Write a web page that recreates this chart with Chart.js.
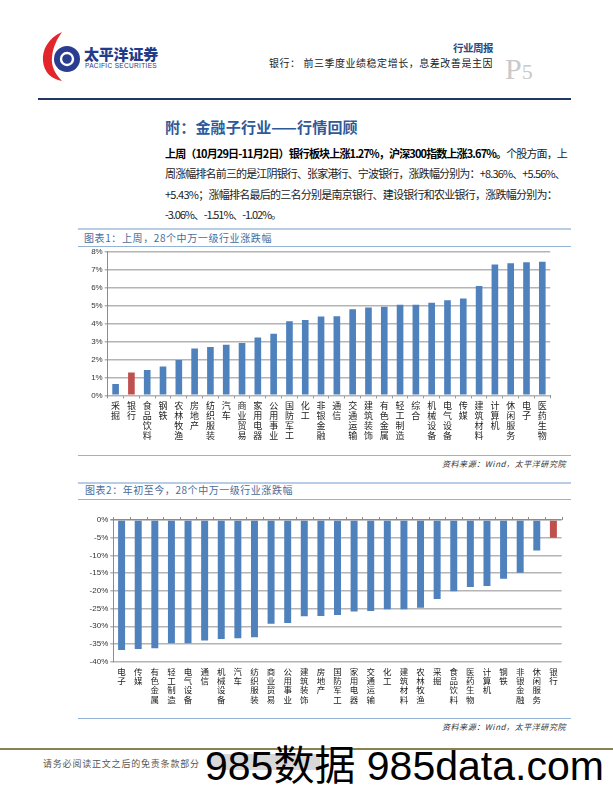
<!DOCTYPE html>
<html><head><meta charset="utf-8">
<script src="https://cdn.jsdelivr.net/npm/chart.js@4.4.1/dist/chart.umd.min.js"></script>
<style>
html,body{margin:0;padding:0;background:#fff;}
body{width:613px;height:793px;position:relative;overflow:hidden;font-family:"Noto Sans CJK SC","Noto Sans",sans-serif;}
.t{position:absolute;white-space:nowrap;line-height:1;}
.ln{position:absolute;height:1px;}
canvas{position:absolute;}
</style></head><body>
<script>
// ---------- data ----------
const cats1 = ['采掘','银行','食品饮料','钢铁','农林牧渔','房地产','纺织服装','汽车','商业贸易','家用电器','公用事业','国防军工','化工','非银金融','通信','交通运输','建筑装饰','有色金属','轻工制造','综合','机械设备','电气设备','传媒','建筑材料','计算机','休闲服务','电子','医药生物'];
const vals1 = [0.63,1.27,1.41,1.61,1.96,2.61,2.69,2.81,2.91,3.22,3.43,4.13,4.19,4.39,4.41,4.80,4.89,4.93,5.04,5.04,5.15,5.30,5.39,6.09,7.28,7.35,7.41,7.44];
const cats2 = ['电子','传媒','有色金属','轻工制造','电气设备','通信','机械设备','汽车','纺织服装','商业贸易','公用事业','建筑装饰','房地产','国防军工','家用电器','交通运输','化工','建筑材料','农林牧渔','采掘','食品饮料','医药生物','计算机','钢铁','非银金融','休闲服务','银行'];
const vals2 = [-36.7,-36.4,-36.2,-34.8,-34.8,-34.0,-33.6,-33.4,-33.1,-29.3,-29.1,-27.2,-27.1,-26.8,-25.8,-25.7,-25.2,-25.2,-24.8,-22.3,-20.1,-18.9,-18.6,-16.6,-14.9,-8.6,-5.0];
const highlight = '银行';
const title1 = '图表1：上周，28个中万一级行业涨跌幅';
const title2 = '图表2：年初至今，28个中万一级行业涨跌幅';
const source = '资料来源：Wind，太平洋研究院';
</script>

<!-- header logo -->
<svg style="position:absolute;left:40px;top:30px" width="44" height="54" viewBox="0 0 44 54">
  <path d="M22 2 C8 8 2 20 3 31 C4 42 11 49 22 51 C15 44 11 36 12 27 C13 17 17 9 22 2 Z" fill="#E3262C"/>
  <circle cx="27" cy="29" r="13" fill="#2A3D8F"/>
  <path d="M21 29 a6 6 0 1 1 6 6 M33 29 a6 6 0 1 1 -6 -6" stroke="#fff" stroke-width="2.4" fill="none"/>
</svg>
<div class="t" data-w="74" style="left:84px;top:46px;font-size:15px;font-weight:900;color:#233B8B">太平洋证券</div>
<div class="t" data-w="72" style="left:85px;top:63px;font-size:6.5px;color:#233B8B;font-family:'Liberation Sans',Arial">PACIFIC SECURITIES</div>

<div class="t" data-w="40" style="left:453px;top:43px;font-size:10.5px;font-weight:bold;color:#2B4A7E">行业周报</div>
<div class="t" data-w="224" style="left:269px;top:58px;font-size:10px;color:#222">银行： 前三季度业绩稳定增长，息差改善是主因</div>
<div class="t" style="left:505px;top:54px;font-size:30px;color:#C9C9C9;font-family:'Liberation Serif','Times New Roman',serif">P<span style="font-size:22px">5</span></div>
<div class="ln" style="left:38px;top:98px;width:533px;height:2px;background:#1F3864"></div>

<!-- section title & paragraph -->
<div class="t" data-w="193" style="left:165px;top:119px;font-size:15px;font-weight:bold;color:#2E5A99">附：金融子行业——行情回顾</div>
<div class="t" data-w="402" style="left:165px;top:147.5px;font-size:11px;color:#222"><b style="font-weight:bold;color:#000">上周（10月29日-11月2日）银行板块上涨1.27%，沪深300指数上涨3.67%。</b>个股方面，上</div>
<div class="t" data-w="400" style="left:165px;top:168px;font-size:11px;color:#222">周涨幅排名前三的是江阴银行、张家港行、宁波银行，涨跌幅分别为：+8.36%、+5.56%、</div>
<div class="t" data-w="392" style="left:165px;top:188.5px;font-size:11px;color:#222">+5.43%；涨幅排名最后的三名分别是南京银行、建设银行和农业银行，涨跌幅分别为：</div>
<div class="t" data-w="116" style="left:165px;top:209px;font-size:11px;color:#222">-3.06%、-1.51%、-1.02%。</div>

<!-- chart 1 frame -->
<div class="ln" style="left:78px;top:228px;width:493px;height:2px;background:#B8CCE4"></div>
<div class="t" id="tt1" data-w="188" style="left:84px;top:233px;font-size:10px;color:#4A6C9B"></div>
<div class="ln" style="left:78px;top:246px;width:493px;background:#95B3D7"></div>
<canvas id="c1" width="500" height="210" style="left:60px;top:244px"></canvas>
<div class="ln" style="left:78px;top:455px;width:493px;background:#95B3D7"></div>
<div class="t" id="s1" data-w="124" style="left:442px;top:460px;font-size:8px;color:#333;font-style:italic"></div>

<!-- chart 2 frame -->
<div class="ln" style="left:78px;top:482px;width:493px;height:2px;background:#B8CCE4"></div>
<div class="t" id="tt2" data-w="208" style="left:85px;top:485px;font-size:10px;color:#4A6C9B"></div>
<div class="ln" style="left:78px;top:499px;width:493px;background:#95B3D7"></div>
<canvas id="c2" width="515" height="210" style="left:55px;top:505px"></canvas>
<div class="ln" style="left:78px;top:718px;width:493px;background:#95B3D7"></div>
<div class="t" id="s2" data-w="124" style="left:442px;top:723px;font-size:8px;color:#333;font-style:italic"></div>

<!-- footer -->
<div class="ln" style="left:0px;top:748px;width:613px;height:2px;background:#8E8150"></div>
<div class="t" style="left:43px;top:759px;font-size:9px;color:#555;letter-spacing:0.8px">请务必阅读正文之后的免责条款部分</div>
<div class="ln" style="left:210px;top:754px;width:110px;height:16px;background:#D8D8D8"></div>
<div class="t" style="left:205px;top:746px;font-size:41px;color:#000;font-family:'Liberation Sans',Arial,'Noto Sans CJK SC'">985数据 985data.com</div>

<script>
document.getElementById('tt1').textContent = title1;
document.getElementById('tt2').textContent = title2;
document.getElementById('s1').textContent = source;
document.getElementById('s2').textContent = source;

// fit text widths by letter-spacing
document.querySelectorAll('[data-w]').forEach(el=>{
  const w = parseFloat(el.dataset.w);
  const n = el.textContent.length;
  const nat = el.getBoundingClientRect().width;
  el.style.letterSpacing = ((w - nat) / n) + 'px';
});

const blue = '#4F81BD', red = '#C0504D';
const tickFont = {family:"'Liberation Sans Narrow','Liberation Sans',Arial", size:8};

function vert(arr){ return arr.map(s => s.split('')); }

// small tick marks on top edge between categories (chart 2)
const topTicks = {
  id:'topTicks',
  afterDraw(chart, args, opts){
    if(!opts.on) return;
    const x = chart.scales.x, ctx = chart.ctx, top = chart.chartArea.top;
    ctx.save(); ctx.strokeStyle = '#8C8C8C'; ctx.lineWidth = 1;
    for(let i=0;i<=x.ticks.length;i++){
      const px = Math.round(x.getPixelForValue(i - 0.5)) + 0.5;
      ctx.beginPath(); ctx.moveTo(px, top - 3); ctx.lineTo(px, top); ctx.stroke();
    }
    ctx.restore();
  }
};

function makeChart(id, cats, vals, yMin, yMax, step, yw, xh, pad, catFont, bottomTicks){
  return new Chart(document.getElementById(id), {
    type:'bar',
    data:{ labels: vert(cats),
      datasets:[{ data: vals,
        backgroundColor: cats.map(c => c===highlight ? red : blue),
        borderWidth:0, categoryPercentage:1.0, barPercentage:0.42 }]},
    plugins:[topTicks],
    options:{
      responsive:false, animation:false, devicePixelRatio:1,
      layout:{padding:pad},
      plugins:{legend:{display:false}, tooltip:{enabled:false}, topTicks:{on:!bottomTicks}},
      scales:{
        x:{ position:'bottom',
          grid:{ display:bottomTicks, drawOnChartArea:false, drawTicks:true, tickLength:3, color:'#8C8C8C', offset:true },
          border:{ display:false },
          ticks:{ autoSkip:false, maxRotation:0, minRotation:0, font:catFont, color:'#222', padding:2 },
          afterFit(s){ s.height = xh; } },
        y:{ min:yMin, max:yMax,
          grid:{ color:(c)=> (c.tick && c.tick.value===0 && yMax===0) ? '#8C8C8C' : '#B4B4B4', lineWidth:1.5, drawTicks:true, tickLength:3 },
          border:{ display:true, color:'#8C8C8C', width:1 },
          ticks:{ stepSize:step, font:tickFont, color:'#333', padding:2,
            callback:v => v + '%' },
          afterFit(s){ s.width = yw; } }
      }
    }
  });
}

makeChart('c1', cats1, vals1, 0, 8, 1, 47.7, 58.7, {left:0, right:9.8, top:7.7, bottom:0},
  {family:"'Noto Sans CJK SC'", size:9, lineHeight:1.12}, true);

makeChart('c2', cats2, vals2, -40, 0, 5, 58.3, 53.3, {left:0, right:8.3, top:15, bottom:0},
  {family:"'Noto Sans CJK SC'", size:8.5, lineHeight:1.1}, false);
</script>
</body></html>
